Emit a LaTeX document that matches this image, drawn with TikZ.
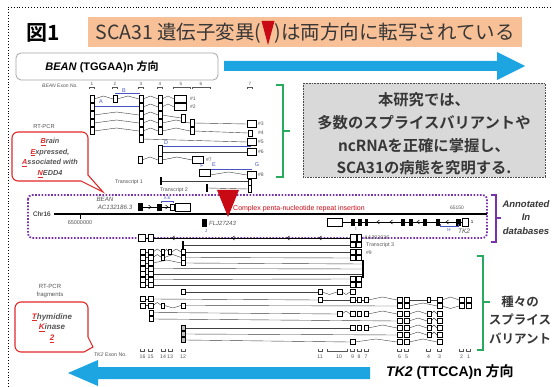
\documentclass[tikz,border=0pt]{standalone}
\usepackage{fontspec}
\setmainfont{Liberation Sans}
\newfontfamily\jp{Noto Sans CJK JP}[BoldFont={Noto Sans CJK JP Bold}]
\usetikzlibrary{arrows.meta}
\definecolor{tkblue}{RGB}{28,165,225}
\definecolor{orng}{RGB}{248,192,150}
\definecolor{grn}{RGB}{40,170,95}
\definecolor{purp}{RGB}{120,50,170}
\definecolor{cred}{RGB}{225,40,40}
\definecolor{dred}{RGB}{200,10,20}
\definecolor{annb}{RGB}{70,85,195}
\definecolor{tgray}{RGB}{85,85,85}
\definecolor{dgray}{RGB}{55,55,55}
\definecolor{boxgray}{RGB}{217,217,217}
\newcommand\fsz[1]{\fontsize{#1}{#1}\selectfont}
\newcommand\ru[1]{\textcolor{cred}{\underline{#1}}}
\newcommand\exn[2]{\draw[exon] (#1-2,#2-3.5) rectangle (#1+2,#2+3.5);}
\newcommand\exw[3]{\draw[exon] (#1,#3-3.5) rectangle (#2,#3+3.5);}
\newcommand\exl[3]{\draw[exon] (#1,#3-2.7) rectangle (#2,#3+2.7);}
\newcommand\exk[2]{\fill[black] (#1-1.1,#2-4) rectangle (#1+1.1,#2+4);}
\newcommand\spl[3]{\draw[intron] (#1,#3) -- ({(#1+#2)/2},#3-3) -- (#2,#3);}
\newcommand\spv[3]{\draw[intron] (#1,#3) -- ({(#1+#2)/2},#3+2.5) -- (#2,#3);}
\newcommand\lnk[4]{\draw[intron] (#1,#2) -- (#3,#4);}
\newcommand\brk[3]{\draw[tgray,line width=0.4pt] (#1,#3+2) -- (#1,#3) -- (#2,#3) -- (#2,#3+2);}
\newcommand\brku[3]{\draw[tgray,line width=0.4pt] (#1,#3-2) -- (#1,#3) -- (#2,#3) -- (#2,#3-2);}
\newcommand\chvr[2]{\draw[line width=0.5pt] (#1-1.5,#2-2) -- (#1+1,#2) -- (#1-1.5,#2+2);}
\newcommand\chvl[2]{\draw[line width=0.5pt] (#1+1.5,#2-2) -- (#1-1,#2) -- (#1+1.5,#2+2);}
\begin{document}
\begin{tikzpicture}[x=1pt,y=-1pt,
  exon/.style={draw=black,fill=white,line width=0.45pt},
  intron/.style={draw=black!75,line width=0.4pt},
  lbl/.style={inner sep=0pt,font=\fsz{5},text=tgray},
  numlbl/.style={inner sep=0pt,font=\fsz{4.6},text=tgray},
  ann/.style={inner sep=0pt,font=\fsz{5.5},text=annb},
  brace/.style={grn,line width=1.4pt}]
\useasboundingbox (0,0) rectangle (553,387);
\fill[white] (0,0) rectangle (553,387);
\draw[line width=0.9pt,dotted] (8,387) -- (8,7) -- (553,7);

% ---------- title ----------
\node[anchor=west,inner sep=0pt,font=\jp\bfseries\fsz{21}] (fig) at (26,33) {図1};
\fill[orng] (88,17) rectangle (522,47);
\node[inner sep=0pt,font=\jp\fsz{19.5},text=dgray] (title) at (305,33)
  {SCA31 遺伝子変異(\raisebox{0pt}{\tikz[x=1pt,y=1pt,baseline=0pt]\fill[dred] (0,19) -- (13,19) -- (6.5,-5) -- cycle;})は両方向に転写されている};

\draw[rounded corners=5pt,draw=gray!70,fill=white,line width=0.8pt] (16,53) rectangle (218,80);
\node[inner sep=0pt,font=\fsz{11}\bfseries] (beandir) at (102,67) {\textit{BEAN} (TGGAA)n {\jp\bfseries 方向}};
\fill[tkblue] (224,61) -- (497,61) -- (497,52) -- (525,66) -- (497,80) -- (497,71) -- (224,71) -- cycle;

% ---------- BEAN exon numbers ----------
\node[lbl,anchor=east] (beanexon) at (78,86) {\textit{BEAN} Exon No.};
\node[numlbl] (b1) at (92,83.5) {1};   \brk{89.5}{94.5}{87}
\node[numlbl] (b2) at (115,83.5) {2};  \brk{112.5}{117.5}{87}
\node[numlbl] (b3) at (141,83.5) {3};  \brk{138.5}{143.5}{87}
\node[numlbl] (b4) at (160,83.5) {4};  \brk{157.5}{162.5}{87}
\node[numlbl] (b5) at (181,83.5) {5};  \brk{173}{190}{87}
\node[numlbl] (b6) at (201,83.5) {6};  \brk{192}{210}{87}
\node[numlbl] (b7) at (250,83.5) {7};  \brk{247.5}{252.5}{87}

% ---------- BEAN RT-PCR rows ----------
\draw[annb,line width=0.6pt] (115,93.5) -- (140,93.5);
\spl{94}{113}{99}\spl{117}{139}{99}\spl{143}{158}{99}\spl{162}{174}{99}
\draw[annb,line width=0.6pt] (94,106) -- (139,106);
\spl{143}{158}{107}\spl{162}{174}{107}
\spl{94}{139}{115}\spl{143}{158}{115}\lnk{162}{115}{181}{118}
\spl{94}{139}{123}\spl{143}{158}{123}\spl{162}{190}{123}\lnk{194}{123}{247}{124}
\spl{94}{139}{131}\spl{143}{158}{131}\spl{162}{190}{131}\lnk{194}{131}{248}{133}
\lnk{143}{139}{247}{142}
\draw[annb,line width=0.6pt] (162,146.5) -- (251,146.5);
\lnk{162}{152}{247}{152}
\spl{142}{158}{160}\spl{162}{192}{160}
\draw[annb,line width=0.6pt] (205,169) -- (252,169);
\spl{210}{247}{175}
\lnk{162}{181}{248}{181}
\lnk{208}{188}{248}{189}

\exn{92}{99}\exn{115}{99}\exn{141}{99}\exn{160}{99}\exw{174}{186}{99}
\exn{92}{107}\exn{141}{107}\exn{160}{107}\exw{174}{186}{107}
\exn{92}{115}\exn{141}{115}\exn{160}{115}\draw[exon] (181,114) rectangle (185,122);
\exn{92}{123}\exn{141}{123}\exn{160}{123}\exn{192}{123}\exw{247}{256}{124}
\exn{92}{131}\exn{141}{131}\exn{160}{131}\exn{192}{131}\draw[exon] (248,130) rectangle (252,136);
\exn{141}{139}\exw{247}{256}{142}
\draw[exon] (158,145) rectangle (162,156);\exw{247}{256}{152}
\exn{140}{160}\exn{160}{160}\exw{192}{203}{160}
\exw{199}{210}{173}\exw{247}{256}{175}
\draw[exon] (248,179) rectangle (251,185);\draw[exon] (248,185) rectangle (251,192);
\exk{161}{181}\exk{207}{188}

\node[lbl,anchor=west] (h1) at (190,99) {\#1};
\node[lbl,anchor=west] (h2) at (190,107) {\#2};
\node[lbl,anchor=west] (h3) at (258,124) {\#3};
\node[lbl,anchor=west] (h4) at (258,133) {\#4};
\node[lbl,anchor=west] (h5) at (258,142) {\#5};
\node[lbl,anchor=west] (h6) at (258,152) {\#6};
\node[lbl,anchor=west] (h7) at (206,160) {\#7};
\node[lbl,anchor=west] (h8) at (258,175) {\#8};
\node[ann] (aA) at (101,102) {A};
\node[ann] (aB) at (124,90.5) {B};
\node[ann] (aD) at (166,143) {D};
\node[ann] (aF) at (202,166) {F};
\node[ann] (aE) at (214,165) {E};
\node[ann] (aG) at (257,165) {G};
\node[lbl,anchor=east,font=\fsz{5.3}] (tr1) at (143,182) {Transcript 1};
\node[lbl,anchor=east,font=\fsz{5.3}] (tr2) at (188,190) {Transcript 2};
\node[lbl,font=\fsz{5.8}] (rtpcr1) at (44,127) {RT-PCR};

% ---------- upper brace and gray box ----------
\draw[brace] (276,85) -- (283,85) -- (283,177) -- (276,177);
\draw[brace] (283,131) -- (290,131);
\draw[fill=boxgray,draw=gray!60!black,line width=0.6pt,densely dotted] (303,83) rectangle (545,177);
\node[align=center,inner sep=0pt,font=\jp\bfseries\fontsize{15.3}{22.7}\selectfont,text=dgray] (study) at (424,134)
  {本研究では、\\多数のスプライスバリアントや\\ncRNAを正確に掌握し、\\SCA31の病態を究明する.};

% ---------- BEAN callout ----------
\draw[cred,line width=1.1pt,fill=white] [rounded corners=6pt] (12,132) -- (88,132) [sharp corners] -- (88,175) -- (103,192) -- (81,181) [rounded corners=6pt] -- (12,181) -- cycle;
\node[align=center,inner sep=0pt,font=\fontsize{7.3}{10.7}\selectfont\bfseries\itshape,text=tgray] (bean) at (50,158)
  {\ru{B}rain\\\ru{E}xpressed,\\\ru{A}ssociated with\\\ru{N}EDD4};

% ---------- annotated databases ----------
\draw[purp,line width=1.8pt,dash pattern=on 1.6pt off 1.6pt,rounded corners=4pt] (28,195) rectangle (487,238);
\draw[line width=2.2pt] (54,214) -- (487,214);
\fill[dred] (217,190) -- (239,190) -- (228,217) -- cycle;
\node[inner sep=0pt,anchor=west,font=\fsz{7},text=dred] (cpx) at (233,208.5) {Complex penta-nucleotide repeat insertion};
\node[inner sep=0pt,font=\fsz{6.5}] (chr) at (42,214) {Chr16};
\draw[line width=0.5pt] (80,214) -- (80,219);
\node[inner sep=0pt,font=\fsz{5.5},text=tgray] (p65) at (80,222.5) {65000000};
\node[inner sep=0pt,font=\fsz{5},text=tgray] (p65b) at (457,208) {65150};
\node[inner sep=0pt,font=\fsz{6.2}\itshape,text=tgray] (beanlbl) at (105,199) {BEAN};
\node[inner sep=0pt,font=\fsz{6.2}\itshape,text=tgray] (acc) at (115,207) {AC132186.3};
% BEAN gene
\draw[line width=0.6pt] (141,207) -- (176,207);
\fill (138,203) rectangle (143,211);
\chvr{150}{207}
\fill (157,203.5) rectangle (162,210.5);
\chvr{167}{207}
\draw[exon] (170,204) rectangle (174,210);
\draw[exon] (175,203) rectangle (190,211);
\draw[annb,line width=0.6pt] (161,203) -- (161,201) -- (173,201) -- (173,203);
\node[ann,font=\fsz{4}] (aAB) at (167,198.5) {A B};
% FLJ
\fill (202,219) rectangle (207,227);
\node[inner sep=0pt,anchor=west,font=\fsz{6}\itshape,text=tgray] (flj) at (209,223) {FLJ27243};
\node[ann,font=\fsz{4.5}] (aJ) at (206,231) {J};
% TK2 gene
\draw[line width=0.6pt] (327,222) -- (468,222);
\draw[exon] (327,218) rectangle (342,226);
\fill (351,218.5) rectangle (355,225.5);
\fill (358,218.5) rectangle (362,225.5);
\fill (365,218.5) rectangle (368,225.5);
\chvl{378}{222}\chvl{391}{222}
\fill (401,218.5) rectangle (405,225.5);
\fill (409,218.5) rectangle (413,225.5);
\chvl{418}{222}
\fill (423,218.5) rectangle (427,225.5);
\fill (436,218.5) rectangle (440,225.5);
\chvl{447}{222}
\fill (456,218.5) rectangle (461,225.5);
\draw[exon] (462,218) rectangle (468,226);
\node[inner sep=0pt,font=\fsz{4.5}] (one) at (472,222) {1};
\node[inner sep=0pt,font=\fsz{6.5}\itshape,text=tgray] (tk2g) at (464,231) {TK2};
\draw[annb,line width=0.6pt] (440,224) -- (440,226.5) -- (458,226.5) -- (458,224);
\node[ann,font=\fsz{4.5}] (aH) at (449,230) {H};
\node[ann,font=\fsz{4.5}] (aI) at (356,229) {I};
% lower track
\draw[line width=0.5pt] (145,238) -- (350,238);
\chvl{173}{238}\chvl{233}{238}\chvl{288}{238}\chvl{320}{238}
\draw[exon] (138,234.5) rectangle (145,241.5);
\draw[exon] (148,234.5) rectangle (153,241.5);
\draw[exon] (350,234.5) rectangle (356,241.5);
\draw[exon] (357.5,234.5) rectangle (361.5,241.5);
\node[inner sep=0pt,anchor=west,font=\fsz{5.3}\itshape,text=tgray] (aa) at (364,237.5) {AA392036};
% purple brace
\draw[purp,line width=1.4pt] (491,195) -- (496,195) -- (496,242) -- (491,242);
\draw[purp,line width=1.4pt] (496,218) -- (501,218);
\node[inner sep=0pt,font=\fsz{9.5}\bfseries\itshape,text=dgray] (annot) at (526,204) {Annotated};
\node[inner sep=0pt,font=\fsz{9.5}\bfseries\itshape,text=dgray] (inn) at (526,217) {In};
\node[inner sep=0pt,font=\fsz{9.5}\bfseries\itshape,text=dgray] (dbs) at (526,231) {databases};

% ---------- TK2 RT-PCR rows: introns ----------
\lnk{184}{245}{350}{245}
\draw[intron] (145,252)--(148,252); \spl{153}{161.5}{252}\spl{164.5}{168.5}{252}\spl{171.5}{181}{252}\lnk{185}{252}{350}{252}
\draw[intron] (145,257.5)--(148,257.5); \spl{153}{161.5}{257.5}\spl{164.5}{181}{257.5}\lnk{185}{257.5}{350}{258}
\draw[intron] (145,263)--(148,263); \spl{153}{181}{263}\lnk{185}{263}{362}{264}
\draw[intron] (145,268.5)--(148,268.5); \lnk{153}{268.5}{362}{269}
\draw[intron] (145,274)--(148,274); \lnk{153}{274}{362}{274}
\draw[intron] (145,279.5)--(148,279.5); \lnk{153}{279.5}{350}{279}
\draw[intron] (145,285)--(148,285); \lnk{153}{285}{350}{285}
\lnk{185}{292}{318}{292}
\draw[intron] (145,299)--(148,299); \lnk{153}{299}{318}{300}
\draw[intron] (145,305.5)--(148,305.5); \spl{153}{161.5}{305.5}\spv{164.5}{181}{305.5}\lnk{185}{305.5}{397}{306}
\lnk{153}{312.5}{337}{314}
\lnk{153}{319}{397}{321}
\lnk{185}{328}{350}{328}
\lnk{185}{334}{397}{335}
\lnk{185}{340}{350}{342}
% right side introns
\spv{322}{337}{292}\spv{342}{350}{292}
\lnk{322}{300}{350}{300}\draw[intron] (355,300)--(357,300) (361,300)--(364,300);\spl{368}{397}{300}\lnk{409}{300}{427}{300}\lnk{430}{300}{437}{300}\spl{442}{459}{300}
\spl{409}{437}{306}\spv{442}{459}{306}
\spl{342}{350}{314}\spl{368}{397}{314}\spl{409}{427}{314}\spl{431}{437}{314}
\spl{409}{427}{321}\spl{431}{437}{321}
\spl{368}{397}{328}\spl{409}{427}{328}\spl{431}{437}{328}
\spl{409}{427}{335}\spl{431}{437}{335}
\spl{355}{397}{342}\spl{409}{437}{342}

% ---------- TK2 RT-PCR rows: exons ----------
\exk{183}{245}
\foreach \yy in {252,257.5,263,268.5,274,279.5,285,299,305.5} {\exl{140}{145}{\yy}\exl{148}{153}{\yy}}
\exl{161.5}{164.5}{252}\exl{168.5}{171.5}{252}\exl{181}{185}{252}
\exl{161.5}{164.5}{257.5}\exl{181}{185}{257.5}
\exl{181}{185}{263}
\exl{181}{185}{292}
\exl{161.5}{164.5}{305.5}\exl{181}{185}{305.5}
\exl{149}{153}{312.5}\exl{149}{153}{319}
\foreach \yy in {328,334,340} {\draw[exon,fill=gray!50] (181,\yy-2.7) rectangle (185,\yy+2.7);}
\foreach \yy in {245,252,258,279,285} {\exl{350}{355}{\yy}\exl{356.5}{361.5}{\yy}}
\exk{363}{264}\exk{363}{269}\exk{363}{274}
\exl{318}{322}{292}\exl{337}{342}{292}\exl{350}{355}{292}
\exl{318}{322}{300}
\foreach \yy in {300,314,328} {\exl{350}{355}{\yy}\exl{357}{361}{\yy}\exl{364}{368}{\yy}}
\exl{337}{342}{314}
\exl{350}{355}{342}
\foreach \yy in {300,306,314,321,328,335,342} {\exl{397}{402}{\yy}\exl{404}{409}{\yy}\exl{437}{442}{\yy}}
\exl{427}{430}{300}
\foreach \yy in {314,321,328,335} {\exl{427}{431}{\yy}}
\foreach \yy in {300,306} {\exl{459}{464}{\yy}\exl{466}{471}{\yy}}

\node[lbl,anchor=west,font=\fsz{5.3}] (tr3) at (366,245) {Transcript 3};
\node[lbl,anchor=west] (h9) at (366,253) {\#9};
\node[lbl,align=center,font=\fontsize{6}{8}\selectfont] (rtpcr2) at (50,291) {RT-PCR\\fragments};

% ---------- TK2 exon numbers ----------
\node[lbl,anchor=east,font=\fsz{5.3}] (tkexon) at (127,355) {\textit{TK2} Exon No.};
\foreach \xx/\nn [count=\i] in {142.5/16,150.5/15,163/14,170/13,183/12,320/11,352.5/9,359/8,366/7,399.5/6,406.5/5,428.5/4,439.5/3,461.5/2,468.5/1}
  {\node[numlbl,font=\fsz{5.2}] (tn\i) at (\xx,357) {\nn}; \brku{\xx-2}{\xx+2}{351}}
\node[numlbl,font=\fsz{5.2}] (tn10) at (339,357) {10}; \brku{327}{347}{351}

% ---------- TK2 callout ----------
\draw[cred,line width=1.1pt,fill=white] [rounded corners=6pt] (15,302) -- (88,302) [sharp corners] -- (88,337) -- (93,347) -- (84,352) [rounded corners=6pt] -- (15,352) -- cycle;
\node[align=center,inner sep=0pt,font=\fontsize{8}{10.8}\selectfont\bfseries\itshape,text=tgray] (tk2c) at (52,328)
  {\ru{T}hymidine\\\ru{K}inase\\\ru{2}};

% ---------- lower brace ----------
\draw[brace] (477,256) -- (483,256) -- (483,350) -- (477,350);
\draw[brace] (483,302) -- (490,302);
\node[align=center,inner sep=0pt,font=\jp\bfseries\fontsize{12.5}{18.5}\selectfont,text=dgray] (variants) at (520,320)
  {種々の\\スプライス\\バリアント};

% ---------- bottom arrow ----------
\fill[tkblue] (370,367) -- (98,367) -- (98,360) -- (68,373) -- (98,386) -- (98,379) -- (370,379) -- cycle;
\node[anchor=west,inner sep=0pt,font=\fsz{14}\bfseries] (tkdir) at (386,372) {\textit{TK2} (TTCCA)n {\jp\bfseries 方向}};
\end{tikzpicture}
\end{document}
